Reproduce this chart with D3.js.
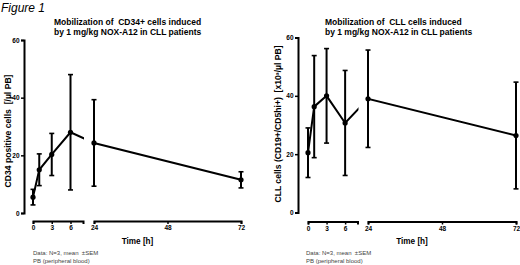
<!DOCTYPE html>
<html><head><meta charset="utf-8">
<script src="https://cdn.jsdelivr.net/npm/d3@7"></script>
<style>body{margin:0;background:#fff}svg{display:block;font-family:"Liberation Sans",Arial,sans-serif}text{white-space:pre}</style>
</head><body><svg id="c" width="520" height="265"></svg>
<script>
const times = [0, 1, 3, 6, 24, 72];
const cd34Mean = [5.5, 15, 20.3, 28, 24.3, 11.5];
const cd34Sem = [2.7, 5.5, 7.3, 20, 15, 2.8];
const cllMean = [20.5, 36.3, 40, 30.7, 39, 26.4];
const cllSem = [8.5, 17.5, 16.2, 18, 16.7, 18.3];
const yTicks = [0, 20, 40, 60];
const xTicks1 = [0, 3, 6];
const xTicks2 = [24, 48, 72];

const svg = d3.select("#c");
svg.append("text").attr("x", 1).attr("y", 12).attr("font-size", 12).attr("font-style", "italic").text("Figure 1");

const panels = [
  {mean: cd34Mean, sem: cd34Sem, ax: 24, x0: 33, x8: 83, x24: 94, x72: 241, yTop: 40, yBot: 213, xAxisY: 221,
   title: ["Mobilization of  CD34+ cells induced", "by 1 mg/kg NOX-A12 in CLL patients"], titleX: 54,
   ylabel: "CD34 positive cells  [/\u00b5l PB]", ylx: 10.5, yly: 131, foot: 33},
  {mean: cllMean, sem: cllSem, ax: 298, x0: 308, x8: 357.5, x24: 368, x72: 516, yTop: 37.5, yBot: 212.5, xAxisY: 221.5,
   title: ["Mobilization of  CLL cells induced", "by 1 mg/kg NOX-A12 in CLL patients"], titleX: 325,
   ylabel: "CLL cells (CD19+/CD5hi+)  [x10\u00b3/\u00b5l PB]", ylx: 280.5, yly: 124, foot: 306}
];

panels.forEach((p, i) => {
  const g = svg.append("g");
  const y = d3.scaleLinear().domain([0, 60]).range([p.yBot, p.yTop]);
  const xs1 = d3.scaleLinear().domain([0, 8]).range([p.x0, p.x8]);
  const xs2 = d3.scaleLinear().domain([24, 72]).range([p.x24, p.x72]);
  const x = t => t <= 8 ? xs1(t) : xs2(t);

  p.title.forEach((t, k) => g.append("text").attr("x", p.titleX).attr("y", 24.5 + k * 10.5)
    .attr("font-size", 8.5).attr("font-weight", "bold").text(t));

  const ya = g.append("g").attr("transform", `translate(${p.ax},0)`)
    .call(d3.axisLeft(y).tickValues(yTicks).tickSize(3).tickSizeOuter(3).tickPadding(1.5));
  ya.select(".domain").attr("stroke-width", 2);
  ya.selectAll(".tick line").attr("stroke-width", 1.5);
  ya.selectAll("text").attr("font-size", 6.5).attr("font-weight", "bold").attr("font-family", "Liberation Sans, Arial, sans-serif");

  [[xs1, xTicks1], [xs2, xTicks2]].forEach(([s, tv]) => {
    const xa = g.append("g").attr("transform", `translate(0,${p.xAxisY})`)
      .call(d3.axisBottom(s).tickValues(tv).tickSize(3).tickSizeOuter(3).tickPadding(1.5));
    xa.select(".domain").attr("stroke-width", 2);
    xa.selectAll(".tick line").attr("stroke-width", 1.5);
    xa.selectAll("text").attr("font-size", 6.5).attr("font-weight", "bold").attr("font-family", "Liberation Sans, Arial, sans-serif");
  });

  g.append("text").attr("transform", `translate(${p.ylx},${p.yly}) rotate(-90)`)
    .attr("text-anchor", "middle").attr("font-size", 8.6).attr("font-weight", "bold").text(p.ylabel);
  g.append("text").attr("x", (p.x24 + p.x72) / 2 - 30).attr("y", 243.5)
    .attr("text-anchor", "middle").attr("font-size", 8.2).attr("font-weight", "bold").text("Time [h]");

  g.append("text").attr("x", p.foot).attr("y", 255).attr("font-size", 6).attr("fill", "#444").text("Data: N=3, mean  \u00b1SEM");
  g.append("text").attr("x", p.foot).attr("y", 263).attr("font-size", 6).attr("fill", "#444").text("PB (peripheral blood)");

  const cid = "clip" + i;
  const cp = svg.append("clipPath").attr("id", cid);
  cp.append("rect").attr("x", 0).attr("y", 0).attr("width", p.x8 + 1).attr("height", 265);
  cp.append("rect").attr("x", p.x24 - 1).attr("y", 0).attr("width", 520).attr("height", 265);

  const pts = times.map((t, k) => ({t, m: p.mean[k], s: p.sem[k]}));
  g.append("path").attr("clip-path", `url(#${cid})`)
    .attr("d", d3.line().x(d => x(d.t)).y(d => y(d.m))(pts))
    .attr("fill", "none").attr("stroke", "#000").attr("stroke-width", 2);

  const eb = g.selectAll(".eb").data(pts).join("g");
  eb.append("line").attr("x1", d => x(d.t)).attr("x2", d => x(d.t))
    .attr("y1", d => y(d.m - d.s)).attr("y2", d => y(d.m + d.s)).attr("stroke", "#000").attr("stroke-width", 2);
  [-1, 1].forEach(sg => eb.append("line").attr("x1", d => x(d.t) - 2.5).attr("x2", d => x(d.t) + 2.5)
    .attr("y1", d => y(d.m + sg * d.s)).attr("y2", d => y(d.m + sg * d.s)).attr("stroke", "#000").attr("stroke-width", 1.6));
  eb.append("circle").attr("cx", d => x(d.t)).attr("cy", d => y(d.m)).attr("r", 2.6).attr("fill", "#000");
});
</script></body></html>
